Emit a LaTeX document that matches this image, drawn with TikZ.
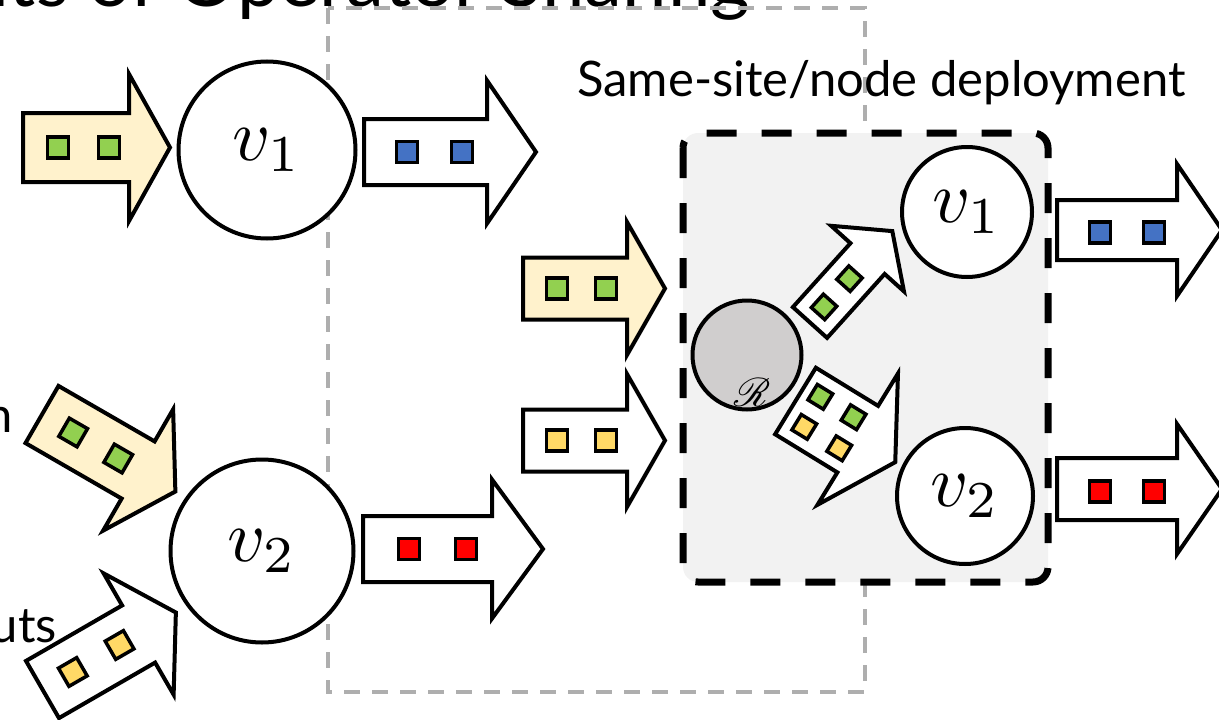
\documentclass[tikz,border=0pt]{standalone}
\usepackage{graphicx}
\usepackage{fontspec}
\usepackage{mathrsfs}
\newfontfamily\labelfont{Lato}
% operator names are set at normal size and enlarged
\newcommand\opname[1]{\scalebox{7.4}{$v_{#1}$}}
\definecolor{arrowyellow}{HTML}{FFF2CC}
\definecolor{sqgreen}{HTML}{92D050}
\definecolor{sqblue}{HTML}{4472C4}
\definecolor{sqred}{HTML}{FF0000}
\definecolor{sqyellow}{HTML}{FFD966}
\definecolor{sitefill}{HTML}{F2F2F2}
\definecolor{routerfill}{HTML}{D0CECE}
\definecolor{framegray}{HTML}{AEAEAE}

% outline of a block arrow: base at (0,0), body length #1, body half width #2,
% head half width #3, head length #4
\newcommand\arrowoutline[4]{(0,-#2) -- (#1,-#2) -- (#1,-#3) -- ({#1+#4},0) -- (#1,#3) -- (#1,#2) -- (0,#2) -- cycle}

\tikzset{
  fatarrow/.style={draw=black, line width=4pt, line join=miter, fill=white},
  token/.style={draw=black, line width=3.5pt, minimum size=#1, inner sep=0pt, transform shape},
  token/.default=21pt,
  opnode/.style={circle, draw=black, line width=4pt, fill=white, inner sep=0pt},
  caption/.style={font=\labelfont\fontsize{49pt}{59pt}\selectfont, inner sep=0pt},
  titletext/.style={font=\labelfont\fontsize{76pt}{86pt}\selectfont, inner sep=0pt},
  frame/.style={draw=framegray, line width=3.5pt, dash pattern=on 16pt off 12pt},
  sitebox/.style={draw=black, fill=sitefill, line width=7pt, rounded corners=15pt, dash pattern=on 30pt off 25pt},
}

\begin{document}
\begin{tikzpicture}[x=1pt, y=-1pt]
\useasboundingbox (0,0) rectangle (1219,720);
\clip (0,0) rectangle (1219,720);

% heading, mostly above the page edge
\node[titletext, anchor=base east] (heading) at (750,6) {nts of Operator Sharing};

% grey dashed frame behind the left pair of operators
\draw[frame] (328,8) rectangle (865,692);

% side labels cut by the left edge
\node[caption, anchor=base east] (lblA) at (13,432) {n};
\node[caption, anchor=base east] (lblB) at (57,642) {uts};

% ---------------- separate operators ----------------
\node[opnode, minimum size=177pt] (v1L) at (267,150) {\opname{1}};
\node[opnode, minimum size=183pt] (v2L) at (262,551) {\opname{2}};

% input of v1
\begin{scope}[shift={(23,147.5)}]
  \draw[fatarrow, fill=arrowyellow] \arrowoutline{106}{34.5}{73.5}{41};
  \node[token, fill=sqgreen] (inAa) at (35,0) {};
  \node[token, fill=sqgreen] (inAb) at (86,0) {};
\end{scope}
% output of v1
\begin{scope}[shift={(364,152)}]
  \draw[fatarrow] \arrowoutline{123}{33}{71.5}{49};
  \node[token, fill=sqblue] (outAa) at (43,0) {};
  \node[token, fill=sqblue] (outAb) at (98,0) {};
\end{scope}
% first input of v2
\begin{scope}[shift={(42,414.5)}, rotate=-30]
  \draw[fatarrow, fill=arrowyellow] \arrowoutline{111}{33}{70}{43};
  \node[token, fill=sqgreen] (inBa) at (36,0) {};
  \node[token, fill=sqgreen] (inBb) at (88,0) {};
\end{scope}
% second input of v2
\begin{scope}[shift={(42.5,689.5)}, rotate=30]
  \draw[fatarrow] \arrowoutline{111}{33}{70}{43};
  \node[token, fill=sqyellow] (inCa) at (35,0) {};
  \node[token, fill=sqyellow] (inCb) at (89,0) {};
\end{scope}
% output of v2
\begin{scope}[shift={(363,549)}]
  \draw[fatarrow] \arrowoutline{129}{33}{69.5}{51};
  \node[token, fill=sqred] (outBa) at (46,0) {};
  \node[token, fill=sqred] (outBb) at (103,0) {};
\end{scope}

% ---------------- shared deployment ----------------
\draw[sitebox] (683,133) rectangle (1048,582);
\node[caption, anchor=base west] (sitelabel) at (577,96) {Same-site/node deployment};

\node[opnode, fill=routerfill, minimum size=109pt] (router) at (747,355) {};
\node[inner sep=0pt] (routername) at (752,392) {\scalebox{4}{$\mathscr{R}$}};
\node[opnode, minimum size=130pt] (v1R) at (967,212) {\opname{1}};
\node[opnode, minimum size=136pt] (v2R) at (965,496) {\opname{2}};

% inputs of the shared site
\begin{scope}[shift={(523,288.5)}]
  \draw[fatarrow, fill=arrowyellow] \arrowoutline{104}{31}{66.5}{38};
  \node[token, fill=sqgreen] (inDa) at (34,0) {};
  \node[token, fill=sqgreen] (inDb) at (83,0) {};
\end{scope}
\begin{scope}[shift={(523,440.5)}]
  \draw[fatarrow] \arrowoutline{104}{31}{66.5}{38};
  \node[token, fill=sqyellow] (inEa) at (34,0) {};
  \node[token, fill=sqyellow] (inEb) at (83,0) {};
\end{scope}

% router to v1
\begin{scope}[shift={(810,322.5)}, rotate=48]
  \draw[fatarrow] \arrowoutline{86}{23}{49}{37};
  \node[token=18pt, fill=sqgreen] (toVa) at (21,0) {};
  \node[token=18pt, fill=sqgreen] (toVb) at (59,0) {};
\end{scope}
% router to v2
\begin{scope}[shift={(795.5,401)}, rotate=-31.5]
  \draw[fatarrow] \arrowoutline{73}{39}{77}{44};
  \node[token=18pt, fill=sqgreen] (toWa) at (19,-16.5) {};
  \node[token=18pt, fill=sqgreen] (toWb) at (58,-16.5) {};
  \node[token=18pt, fill=sqyellow] (toWc) at (21,17.5) {};
  \node[token=18pt, fill=sqyellow] (toWd) at (62,17.5) {};
\end{scope}

% outputs of the shared site
\begin{scope}[shift={(1057,230)}]
  \draw[fatarrow] \arrowoutline{120}{30}{66}{45};
  \node[token, fill=sqblue] (outCa) at (43,2.5) {};
  \node[token, fill=sqblue] (outCb) at (97,2.5) {};
\end{scope}
\begin{scope}[shift={(1057,489)}]
  \draw[fatarrow] \arrowoutline{120}{31}{65}{45};
  \node[token, fill=sqred] (outDa) at (43,2.5) {};
  \node[token, fill=sqred] (outDb) at (97,2.5) {};
\end{scope}
\end{tikzpicture}
\end{document}
